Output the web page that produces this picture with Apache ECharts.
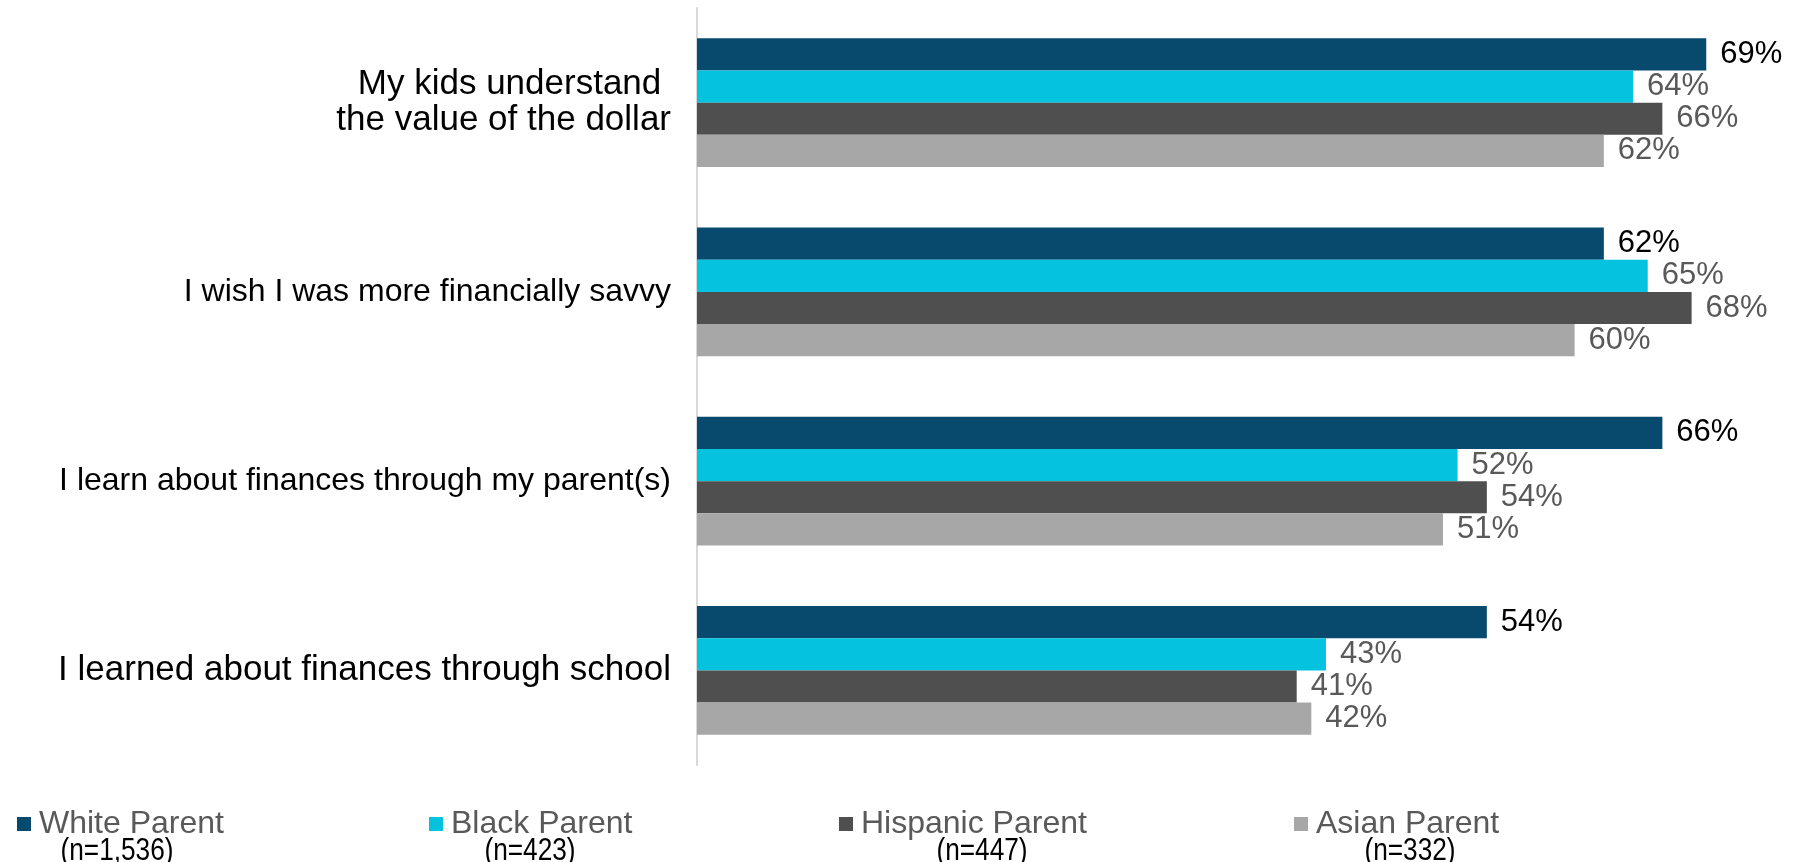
<!DOCTYPE html>
<html><head><meta charset="utf-8">
<script src="https://cdn.jsdelivr.net/npm/echarts@6/dist/echarts.min.js"></script>
<style>html,body{margin:0;padding:0;background:#fff}#c{width:1800px;height:862px}</style>
</head><body><div id="c"></div>
<script>
var categories = ["My kids understand \nthe value of the dollar", "I wish I was more financially savvy", "I learn about finances through my parent(s)", "I learned about finances through school"];
var seriesNames = ["White Parent", "Black Parent", "Hispanic Parent", "Asian Parent"];
var nLabels = ["(n=1,536)", "(n=423)", "(n=447)", "(n=332)"];
var white = [69, 62, 66, 54];
var black = [64, 65, 52, 43];
var hispanic = [66, 68, 54, 41];
var asian = [62, 60, 51, 42];
var values = [white, black, hispanic, asian];
var colors = ["#074A6E", "#05C3DE", "#4F4F4F", "#A7A7A7"];
var labelColors = ["#000000", "#595959", "#595959", "#595959"];

var chart = echarts.init(document.getElementById('c'));
var legendLeft = [12, 424, 834, 1289];
var nCenters = [117, 530, 982, 1410];
var sans = "'Liberation Sans',Arial,sans-serif";
var bigLabelIdx = [0, 3];
var option = {
  animation: false,
  grid: {left: 697, right: 6, top: 8, bottom: 97, containLabel: false},
  xAxis: {type: 'value', min: 0, max: 75, show: false},
  yAxis: {
    type: 'category', data: categories, inverse: true,
    axisLine: {show: true, lineStyle: {color: '#D9D9D9', width: 2}},
    axisTick: {show: false},
    axisLabel: {
      color: '#000', fontSize: 32, fontFamily: sans, margin: 26, align: 'right',
      formatter: function(v, i){
        var st = bigLabelIdx.indexOf(i) >= 0 ? 'b' : 's';
        return v.split('\n').map(function(l){ return '{' + st + '|' + l + '}'; }).join('\n');
      },
      rich: {
        b: {fontSize: 35, lineHeight: 36, fontFamily: sans, color: '#000'},
        s: {fontSize: 32, lineHeight: 36, fontFamily: sans, color: '#000'}
      }
    }
  },
  legend: seriesNames.map(function(n, i){
    return {
      data: [n], left: legendLeft[i], top: 803, icon: 'rect', itemWidth: 14, itemHeight: 14,
      textStyle: {color: '#595959', fontSize: 32, fontFamily: sans, padding: [0,0,0,3]},
      selectedMode: false
    };
  }),
  graphic: nLabels.map(function(t, i){
    return {type: 'text', x: nCenters[i], y: 851, scaleX: 0.82, style: {text: t, fill: '#000', fontSize: 32, fontFamily: sans, align: 'center', verticalAlign: 'middle'}};
  }),
  series: seriesNames.map(function(n, i){
    return {
      name: n, type: 'bar', data: values[i], barGap: '0%', barCategoryGap: '32%',
      itemStyle: {color: colors[i]},
      label: {show: true, position: 'right', distance: 14, formatter: '{c}%', color: labelColors[i], fontSize: 31, fontFamily: sans}
    };
  })
};
chart.setOption(option);
</script></body></html>
